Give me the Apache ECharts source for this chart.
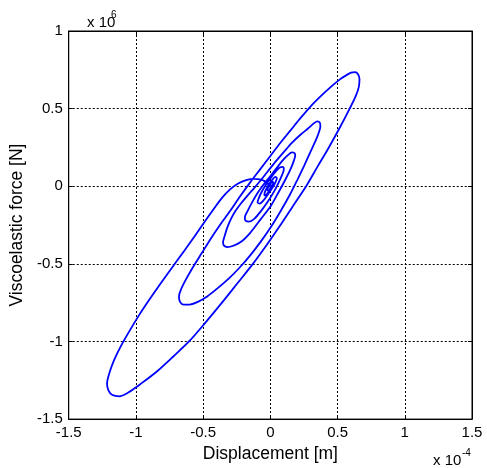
<!DOCTYPE html>
<html>
<head>
<meta charset="utf-8">
<title>Viscoelastic force</title>
<script src="https://cdn.jsdelivr.net/npm/echarts@6/dist/echarts.min.js"></script>
<style>
  html, body { margin: 0; padding: 0; background: #fff; }
  #chart { width: 487px; height: 468px; }
</style>
</head>
<body>
<div id="chart"></div>
<script>
// 位移 (x 10^-4 m)，按时间顺序
var displacement = [
  // 起点 -> 外圈左下
  0, -0.03, -0.07, -0.12, -0.18, -0.24, -0.30, -0.36, -0.42, -0.49, -0.566, -0.64, -0.72, -0.814, -0.9, -0.98, -1.05, -1.112, -1.165, -1.2, -1.215, -1.205, -1.175, -1.124,
  // 外圈右下边 -> 右上
  -1.06, -0.96, -0.84, -0.72, -0.60, -0.48, -0.36, -0.245, -0.13, -0.025, 0.075, 0.17, 0.266, 0.35, 0.435, 0.515, 0.59, 0.635, 0.658, 0.663, 0.652, 0.63, 0.60, 0.565,
  // 外圈上边 -> 第二圈左下
  0.52, 0.45, 0.375, 0.30, 0.225, 0.15, 0.075, 0.0, -0.075, -0.15, -0.225, -0.30, -0.375, -0.441, -0.51, -0.575, -0.628, -0.665, -0.68, -0.672, -0.645, -0.6,
  // 第二圈右下边
  -0.54, -0.47, -0.39, -0.31, -0.23, -0.15, -0.07, 0.01, 0.08, 0.145, 0.2, 0.25, 0.295, 0.335, 0.36, 0.372, 0.368, 0.35, 0.328,
  // 第二圈上边 -> 第三圈左下
  0.28, 0.228, 0.16, 0.104, 0.04, -0.02, -0.07, -0.119, -0.17, -0.218, -0.26, -0.293, -0.32, -0.342, -0.352, -0.345, -0.32, -0.28, -0.218,
  // 第三圈
  -0.15, -0.07, 0.004, 0.06, 0.11, 0.15, 0.175, 0.185, 0.178, 0.16,
  0.13, 0.09, 0.04, -0.01, -0.06, -0.1, -0.14, -0.17, -0.19, -0.185, -0.16, -0.12,
  // 第四圈
  -0.07, -0.02, 0.03, 0.07, 0.095, 0.1, 0.09, 0.07,
  0.04, 0.0, -0.04, -0.07, -0.09, -0.095, -0.08, -0.05,
  // 中心小圈
  -0.02, 0.015, 0.04, 0.048, 0.038, 0.02,
  0.0, -0.025, -0.042, -0.045, -0.03, -0.01, 0.01, 0.022, 0.015, 0.0, -0.015, -0.022, -0.012, 0.0, 0.008, 0.0
];
// 粘弹性力 (x 10^6 N)
var force = [
  0, 0.025, 0.042, 0.048, 0.04, 0.018, -0.02, -0.075, -0.145, -0.23, -0.326, -0.415, -0.51, -0.623, -0.73, -0.835, -0.935, -1.03, -1.125, -1.21, -1.27, -1.315, -1.345, -1.353,
  -1.33, -1.27, -1.19, -1.095, -0.995, -0.875, -0.75, -0.625, -0.5, -0.375, -0.25, -0.125, 0.0, 0.125, 0.25, 0.375, 0.5, 0.58, 0.64, 0.69, 0.722, 0.735, 0.732, 0.715,
  0.69, 0.64, 0.58, 0.515, 0.44, 0.36, 0.28, 0.195, 0.11, 0.025, -0.065, -0.16, -0.25, -0.335, -0.43, -0.52, -0.6, -0.665, -0.71, -0.745, -0.763, -0.762,
  -0.745, -0.71, -0.655, -0.595, -0.525, -0.445, -0.355, -0.255, -0.155, -0.055, 0.04, 0.13, 0.215, 0.29, 0.345, 0.385, 0.41, 0.418, 0.408,
  0.372, 0.335, 0.28, 0.225, 0.16, 0.095, 0.04, -0.01, -0.06, -0.11, -0.16, -0.21, -0.265, -0.326, -0.36, -0.383, -0.392, -0.385, -0.358,
  -0.3, -0.21, -0.125, -0.04, 0.04, 0.11, 0.165, 0.2, 0.215, 0.218,
  0.2, 0.165, 0.11, 0.055, 0.0, -0.05, -0.11, -0.16, -0.2, -0.222, -0.228, -0.21,
  -0.16, -0.1, -0.03, 0.04, 0.09, 0.115, 0.125, 0.12,
  0.095, 0.05, 0.0, -0.045, -0.085, -0.105, -0.112, -0.09,
  -0.055, -0.01, 0.03, 0.052, 0.06, 0.048,
  0.025, -0.01, -0.04, -0.058, -0.055, -0.03, 0.0, 0.022, 0.03, 0.015, -0.005, -0.025, -0.028, -0.012, 0.005, 0.003
];

var font = "'Liberation Sans', Arial, sans-serif";

function initChart() {
  var chart = echarts.init(document.getElementById("chart"), null, { renderer: "canvas" });
  var points = displacement.map(function (x, i) {
    return [x, force[i]];
  });
  var gridLine = { show: true, lineStyle: { color: "#000", width: 1, type: [2, 2] } };
  var plain = { show: false };
  chart.setOption({
    animation: false,
    backgroundColor: "#fff",
    grid: {
      left: 68, right: 15, top: 31, bottom: 43,
      show: true, borderColor: "#000", borderWidth: 1
    },
    xAxis: [
      {
        type: "value", min: -1.5, max: 1.5, interval: 0.5,
        name: "Displacement [m]", nameLocation: "middle", nameGap: 23,
        nameTextStyle: { color: "#000", fontSize: 17.5, fontFamily: font },
        axisLine: { show: true, onZero: false, lineStyle: { color: "#000" } },
        axisTick: { show: true, inside: true, length: 4, lineStyle: { color: "#000" } },
        axisLabel: { color: "#000", fontSize: 15, fontFamily: font, margin: 6 },
        splitLine: gridLine
      },
      {
        type: "value", position: "top", min: -1.5, max: 1.5, interval: 0.5,
        axisLine: { show: true, onZero: false, lineStyle: { color: "#000" } },
        axisTick: { show: true, inside: true, length: 4, lineStyle: { color: "#000" } },
        axisLabel: plain, splitLine: plain
      }
    ],
    yAxis: [
      {
        type: "value", min: -1.5, max: 1, interval: 0.5,
        name: "Viscoelastic force [N]", nameLocation: "middle", nameGap: 37,
        nameTextStyle: { color: "#000", fontSize: 17.5, fontFamily: font },
        axisLine: { show: true, onZero: false, lineStyle: { color: "#000" } },
        axisTick: { show: true, inside: true, length: 4, lineStyle: { color: "#000" } },
        axisLabel: { color: "#000", fontSize: 15, fontFamily: font, margin: 6 },
        splitLine: gridLine
      },
      {
        type: "value", position: "right", min: -1.5, max: 1, interval: 0.5,
        axisLine: { show: true, onZero: false, lineStyle: { color: "#000" } },
        axisTick: { show: true, inside: true, length: 4, lineStyle: { color: "#000" } },
        axisLabel: plain, splitLine: plain
      }
    ],
    graphic: [
      // 坐标倍数标注
      { type: "text", left: 87, top: 15, style: { text: "x 10", fill: "#000", font: "15px " + font } },
      { type: "text", left: 111, top: 10, style: { text: "6", fill: "#000", font: "10px " + font } },
      { type: "text", left: 433, top: 453, style: { text: "x 10", fill: "#000", font: "15px " + font } },
      { type: "text", left: 462, top: 448, style: { text: "-4", fill: "#000", font: "10px " + font } }
    ],
    series: [
      {
        type: "line",
        xAxisIndex: 0,
        yAxisIndex: 0,
        data: points,
        showSymbol: false,
        smooth: 0.3,
        lineStyle: { color: "#0000ff", width: 1.8 }
      }
    ]
  });
}

initChart();
</script>
</body>
</html>
